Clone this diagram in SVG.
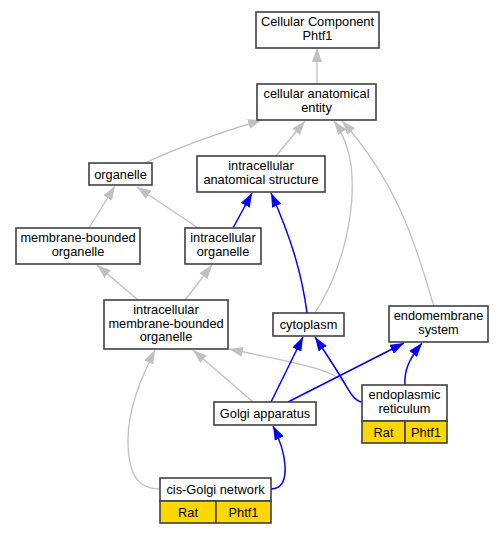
<svg xmlns="http://www.w3.org/2000/svg" width="504" height="533" viewBox="0 0 504 533">
<defs>
<style>
.n{fill:#fff;stroke:#404040;stroke-width:1.6}
.y{fill:#ffd700;stroke:#404040;stroke-width:1.6}
text{font-family:"Liberation Sans",Arial,sans-serif;font-size:12.8px;text-anchor:middle;fill:#000}
.g{fill:none;stroke:#c0c0c0;stroke-width:1.3;marker-end:url(#ag)}
.b{fill:none;stroke:#0000ff;stroke-width:1.5;marker-end:url(#ab)}
</style>
<marker id="ag" markerUnits="userSpaceOnUse" markerWidth="14" markerHeight="10" viewBox="0 0 14 10" refX="14" refY="5" orient="auto"><path d="M0,0L14,5L0,10z" fill="#c0c0c0"/></marker>
<marker id="ab" markerUnits="userSpaceOnUse" markerWidth="14" markerHeight="10" viewBox="0 0 14 10" refX="14" refY="5" orient="auto"><path d="M0,0L14,5L0,10z" fill="#0000ff"/></marker>
</defs>
<rect width="504" height="533" fill="#fff"/>
<g id="edges">
<path class="g" d="M317,84L317,48"/>
<path class="g" d="M145,163C175,149 215,134 262,120"/>
<path class="g" d="M276,156L305,121"/>
<path class="g" d="M315,313C340,275 357,215 351,165C348,145 343,133 334,121"/>
<path class="g" d="M434,307C415,240 395,180 342,121"/>
<path class="g" d="M89,228L115,186"/>
<path class="g" d="M198,228L137,187"/>
<path class="g" d="M138,300L97,265"/>
<path class="g" d="M185,300L212,265"/>
<path class="g" d="M253,402L193,350"/>
<path class="g" d="M362,403C355,402 352,395 346,385C335,368 280,360 229,349"/>
<path class="g" d="M160,489C135,489 128,470 128,440C128,410 140,380 155,350"/>
<path class="b" d="M233,228L252,193"/>
<path class="b" d="M307,313C302,275 292,240 271,193"/>
<path class="b" d="M271,402L303,337"/>
<path class="b" d="M362,402C355,401 350,393 345,384C335,367 325,352 315,337"/>
<path class="b" d="M288,402L404,343"/>
<path class="b" d="M405,385C404,372 408,360 422,343"/>
<path class="b" d="M271,489C282,489 286,480 285,465C284,452 280,440 273,426"/>
</g>
<g id="n_cc"><rect class="n" x="256" y="12" width="123" height="36"/><text x="317.5" y="26.3">Cellular Component</text><text x="317.5" y="39.8">Phtf1</text></g>
<g id="n_cae"><rect class="n" x="257" y="84" width="119" height="36"/><text x="316.5" y="98.3">cellular anatomical</text><text x="316.5" y="111.8">entity</text></g>
<g id="n_org"><rect class="n" x="89" y="163" width="63" height="22"/><text x="120.5" y="178.5">organelle</text></g>
<g id="n_ias"><rect class="n" x="197" y="156" width="128" height="36"/><text x="261" y="170.3">intracellular</text><text x="261" y="183.8">anatomical structure</text></g>
<g id="n_mbo"><rect class="n" x="16" y="228" width="124" height="36"/><text x="78" y="242.3">membrane-bounded</text><text x="78" y="255.8">organelle</text></g>
<g id="n_io"><rect class="n" x="185" y="228" width="76" height="36"/><text x="223" y="242.3">intracellular</text><text x="223" y="255.8">organelle</text></g>
<g id="n_imbo"><rect class="n" x="104" y="300" width="124" height="49"/><text x="166" y="314.3">intracellular</text><text x="166" y="327.8">membrane-bounded</text><text x="166" y="341.3">organelle</text></g>
<g id="n_cyto"><rect class="n" x="273" y="313" width="71" height="23"/><text x="308.5" y="329">cytoplasm</text></g>
<g id="n_endo"><rect class="n" x="389" y="306" width="99" height="36"/><text x="438.5" y="320.3">endomembrane</text><text x="438.5" y="333.8">system</text></g>
<g id="n_golgi"><rect class="n" x="214" y="402" width="102" height="23"/><text x="265" y="418">Golgi apparatus</text></g>
<g id="n_er"><rect class="n" x="362" y="385" width="85" height="36"/><text x="404.5" y="399.3">endoplasmic</text><text x="404.5" y="412.8">reticulum</text><rect class="y" x="362" y="421" width="43" height="22"/><rect class="y" x="405" y="421" width="42" height="22"/><text x="383.5" y="436.5">Rat</text><text x="426" y="436.5">Phtf1</text></g>
<g id="n_cgn"><rect class="n" x="160" y="478" width="111" height="23"/><text x="215.5" y="494">cis-Golgi network</text><rect class="y" x="160" y="501" width="56" height="22"/><rect class="y" x="216" y="501" width="55" height="22"/><text x="188" y="516.5">Rat</text><text x="243.5" y="516.5">Phtf1</text></g>
</svg>
